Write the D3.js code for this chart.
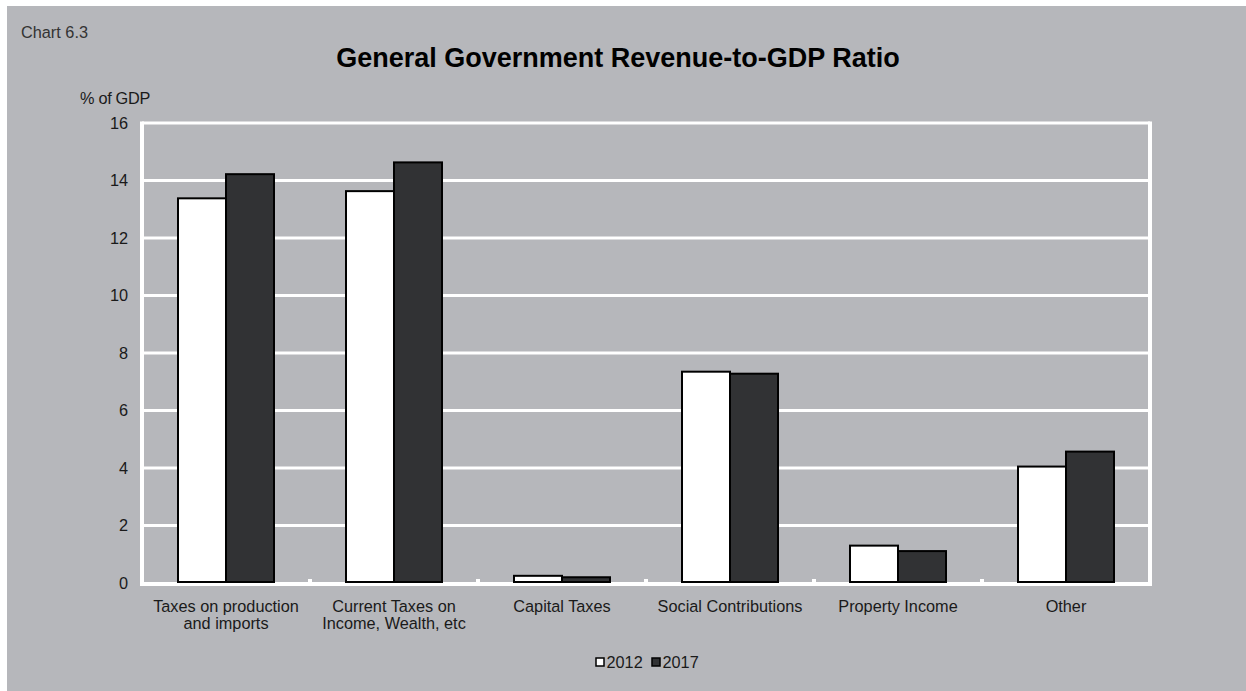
<!DOCTYPE html>
<html>
<head>
<meta charset="utf-8">
<script src="https://cdn.jsdelivr.net/npm/d3@7"></script>
<style>
  html, body { margin: 0; padding: 0; background: #ffffff; }
  svg { display: block; }
  text { font-family: "Liberation Sans", Arial, sans-serif; }
</style>
</head>
<body>
<svg id="chart" width="1246" height="691"></svg>
<script>
const categories = [
  ["Taxes on production", "and imports"],
  ["Current Taxes on", "Income, Wealth, etc"],
  ["Capital Taxes"],
  ["Social Contributions"],
  ["Property Income"],
  ["Other"]
];
const seriesNames = ["2012", "2017"];
const values2012 = [13.38, 13.63, 0.25, 7.35, 1.30, 4.05];
const values2017 = [14.22, 14.63, 0.20, 7.28, 1.11, 4.57];
const yTicks = [0, 2, 4, 6, 8, 10, 12, 14, 16];

const colors = { "2012": "#ffffff", "2017": "#313234" };
const bg = "#b6b7bb";
const FS = 16.3;

const svg = d3.select("#chart");
svg.append("rect").attr("x", 7).attr("y", 6).attr("width", 1239).attr("height", 685).attr("fill", bg);

const pLeft = 142, pRight = 1150, pTop = 123, pBottom = 583;
const x0 = d3.scaleBand().domain(d3.range(categories.length)).range([pLeft, pRight]).padding(0);
const x1 = d3.scaleBand().domain(seriesNames).range([36, 132]).padding(0);
const y = d3.scaleLinear().domain([0, 16]).range([pBottom, pTop]);

// gridlines
svg.append("g").selectAll("line").data(yTicks.filter(d => d > 0)).join("line")
  .attr("x1", pLeft).attr("x2", pRight)
  .attr("y1", d => y(d)).attr("y2", d => y(d))
  .attr("stroke", "#ffffff").attr("stroke-width", 3);

// frame (left, right, bottom)
svg.append("line").attr("x1", pLeft).attr("x2", pLeft).attr("y1", pTop - 1.5).attr("y2", pBottom + 3)
  .attr("stroke", "#fff").attr("stroke-width", 4);
svg.append("line").attr("x1", pRight).attr("x2", pRight).attr("y1", pTop - 1.5).attr("y2", pBottom + 3)
  .attr("stroke", "#fff").attr("stroke-width", 4);
svg.append("line").attr("x1", pLeft - 2).attr("x2", pRight + 2).attr("y1", pBottom + 1).attr("y2", pBottom + 1)
  .attr("stroke", "#fff").attr("stroke-width", 4);

// category boundary ticks
svg.append("g").selectAll("rect").data(d3.range(1, categories.length)).join("rect")
  .attr("x", d => x0(d) - 2).attr("y", pBottom - 4).attr("width", 4).attr("height", 4)
  .attr("fill", "#fff");

// bars
const groups = svg.append("g").selectAll("g").data(categories).join("g")
  .attr("transform", (d, i) => `translate(${x0(i)},0)`);
groups.each(function(d, i) {
  const g = d3.select(this);
  const vals = [values2012[i], values2017[i]];
  seriesNames.forEach((s, k) => {
    g.append("rect")
      .attr("x", x1(s))
      .attr("y", y(vals[k]))
      .attr("width", x1.bandwidth())
      .attr("height", y(0) - y(vals[k]) - 1)
      .attr("fill", colors[s])
      .attr("stroke", "#000").attr("stroke-width", 2);
  });
});

// y axis labels
const yAxis = d3.axisLeft(y).tickValues(yTicks).tickSize(0).tickPadding(0);
const ya = svg.append("g").attr("transform", `translate(128,0)`).call(yAxis);
ya.select(".domain").remove();
ya.selectAll("text").attr("font-size", FS).attr("fill", "#1a1a1a")
  .attr("font-family", "'Liberation Sans', Arial, sans-serif");

// x category labels
const xl = svg.append("g");
categories.forEach((lines, i) => {
  const t = xl.append("text")
    .attr("x", x0(i) + x0.bandwidth() / 2)
    .attr("y", 611.5)
    .attr("text-anchor", "middle")
    .attr("font-size", FS).attr("fill", "#1a1a1a");
  lines.forEach((ln, j) => {
    t.append("tspan").attr("x", x0(i) + x0.bandwidth() / 2).attr("dy", j === 0 ? 0 : 17.5).text(ln);
  });
});

// titles
svg.append("text").attr("x", 21).attr("y", 38).attr("font-size", FS).attr("fill", "#333").text("Chart 6.3");
svg.append("text").attr("x", 618).attr("y", 67).attr("text-anchor", "middle")
  .attr("font-size", 27).attr("font-weight", "bold").attr("fill", "#000")
  .text("General Government Revenue-to-GDP Ratio");
svg.append("text").attr("x", 80).attr("y", 104).attr("font-size", FS).attr("fill", "#1a1a1a")
  .attr("letter-spacing", -0.3).text("% of GDP");

// legend
const legend = svg.append("g");
const legX = [596, 652];
seriesNames.forEach((s, k) => {
  legend.append("rect").attr("x", legX[k]).attr("y", 658).attr("width", 8).attr("height", 8)
    .attr("fill", colors[s]).attr("stroke", "#000").attr("stroke-width", 1.5);
  legend.append("text").attr("x", legX[k] + 10.5).attr("y", 668).attr("font-size", FS)
    .attr("fill", "#1a1a1a").text(s);
});
</script>
</body>
</html>
